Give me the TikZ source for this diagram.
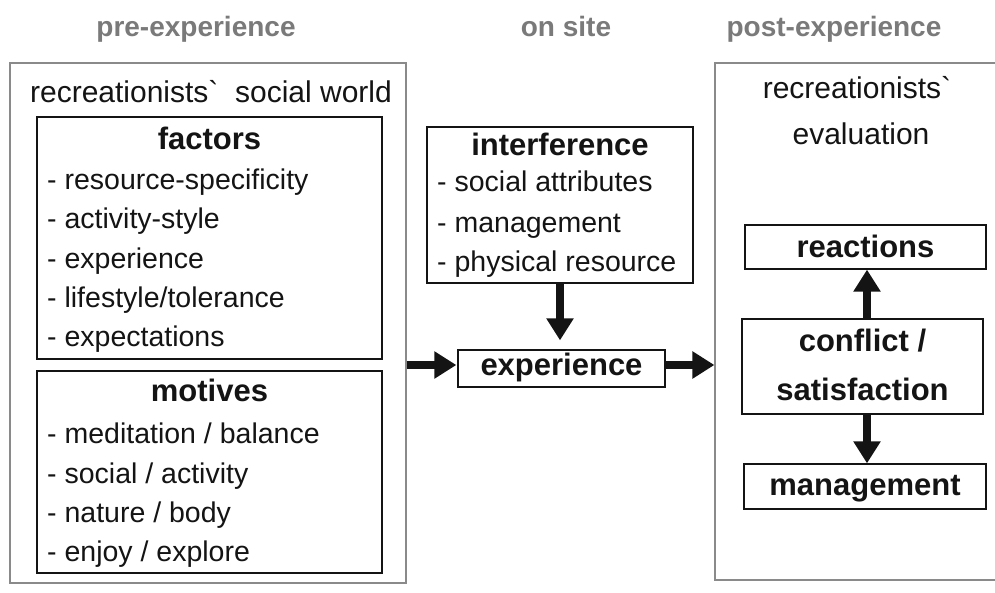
\documentclass[tikz,border=0pt]{standalone}
\usepackage{fontspec}
\setmainfont{Liberation Sans}[Ligatures=TeXOff]
\usetikzlibrary{arrows.meta}
\definecolor{ink}{HTML}{141414}
\definecolor{hdr}{HTML}{7A7A7A}
\definecolor{frame}{HTML}{8A8A8A}
\newcommand\bq{\symbol{"60}}
\begin{document}
\begin{tikzpicture}[x=1pt,y=-1pt,
  txt/.style={font=\fontsize{28.5}{34}\selectfont, text=ink, inner sep=0pt, text height=20pt, text depth=6pt},
  big/.style={txt, font=\fontsize{30}{36}\selectfont},
  bld/.style={txt, font=\fontsize{31}{36}\selectfont\bfseries, text height=22pt, text depth=6pt},
  head/.style={txt, font=\fontsize{28}{34}\selectfont\bfseries, text=hdr},
  item/.style={txt, anchor=west},
  box/.style={draw=ink, line width=1.3pt, inner sep=0pt},
  outer/.style={draw=frame, line width=1.2pt, inner sep=0pt},
  arr/.style={draw=ink, line width=8pt, -{Triangle[width=26pt,length=22pt]}}]
\useasboundingbox (0,0) rectangle (995,592);
\fill[white] (0,0) rectangle (995,592);

% headers
\node[head] (h1) at (196,29) {pre-experience};
\node[head] (h2) at (566,29) {on site};
\node[head] (h3) at (834,29) {post-experience};

% outer frames
\node[outer, minimum width=396pt, minimum height=520pt] (left) at (208,323) {};
\node[outer, minimum width=290pt, minimum height=517pt] (right) at (860,321.5) {};

% left content
\node[big] (lt) at (211,95) {recreationists\bq\ \ social world};
\node[box, minimum width=345pt, minimum height=242pt] (factors) at (209.5,238) {};
\node[box, minimum width=345pt, minimum height=202pt] (motives) at (209.5,472) {};

\node[bld] (ft) at (209.5,141) {factors};
\node[item] (f1) at (47,182) {- resource-specificity};
\node[item] (f2) at (47,221) {- activity-style};
\node[item] (f3) at (47,261) {- experience};
\node[item] (f4) at (47,300) {- lifestyle/tolerance};
\node[item] (f5) at (47,339) {- expectations};

\node[bld] (mt) at (209.5,393) {motives};
\node[item] (m1) at (47,436) {- meditation / balance};
\node[item] (m2) at (47,476) {- social / activity};
\node[item] (m3) at (47,515) {- nature / body};
\node[item] (m4) at (47,554) {- enjoy / explore};

% middle
\node[box, minimum width=266pt, minimum height=156pt] (interf) at (560,205) {};
\node[bld] (it) at (560,147) {interference};
\node[item] (i1) at (437,184) {- social attributes};
\node[item] (i2) at (437,225) {- management};
\node[item] (i3) at (437,264) {- physical resource};

\node[box, minimum width=207pt, minimum height=37pt] (exp) at (561.5,368.5) {};
\node[bld] (et) at (561.5,367) {experience};

% right content
\node[big] (r1) at (857,91) {recreationists\bq};
\node[big] (r2) at (861,137) {evaluation};
\node[box, minimum width=241pt, minimum height=44pt] (react) at (865.5,247) {};
\node[bld] (rt) at (865.5,249) {reactions};
\node[box, minimum width=241pt, minimum height=95pt] (confl) at (862.5,366.5) {};
\node[bld] (c1) at (862.5,343) {conflict /};
\node[bld] (c2) at (862.5,392) {satisfaction};
\node[box, minimum width=242pt, minimum height=45pt] (mgmt) at (865,486.5) {};
\node[bld] (mgt) at (865,487) {management};

% arrows
\draw[arr, shorten >=9pt] (interf.south) -- (interf.south |- exp.north);
\draw[arr] ([yshift=3.5pt]left.east |- exp.west) -- ([yshift=3.5pt,xshift=-1pt]exp.west);
\draw[arr] ([yshift=3.5pt]exp.east) -- ([yshift=3.5pt]right.west |- exp.east);
\draw[arr] ([xshift=4.5pt]confl.north) -- ([xshift=4.5pt]confl.north |- react.south);
\draw[arr] ([xshift=4.5pt]confl.south) -- ([xshift=4.5pt]confl.south |- mgmt.north);
\end{tikzpicture}
\end{document}
